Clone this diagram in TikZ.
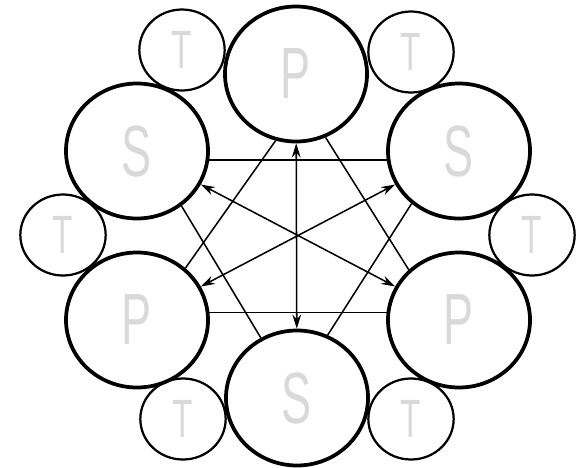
\documentclass[tikz,border=0pt]{standalone}
\usepackage{fontspec}
\newfontfamily\lblfont{Liberation Sans}[FakeStretch=0.62]
\usetikzlibrary{arrows.meta,shapes.geometric}

\begin{document}
\begin{tikzpicture}[x=0.03cm, y=-0.03cm, >={Stealth[length=12pt,width=7.5pt]},
  big/.style={draw, ellipse, line width=3.2pt, minimum width=4.26cm, minimum height=4.05cm, inner sep=0pt, text=black!15, font=\lblfont\fontsize{62}{62}\selectfont},
  small/.style={draw, ellipse, line width=1.9pt, minimum width=2.56cm, minimum height=2.43cm, inner sep=0pt, text=black!15, font=\lblfont\fontsize{46}{46}\selectfont},
  link/.style={line width=1.3pt}]
\useasboundingbox (0,0) rectangle (578,468);
% outer ring
\node[big] (ptop) at (296,74) {P};
\node[big] (stl) at (137,151) {S};
\node[big] (str) at (459,151) {S};
\node[big] (pbl) at (137,320) {P};
\node[big] (pbr) at (459,320) {P};
\node[big] (sbot) at (297,398) {S};
\node[small] (ttl) at (182,50) {T};
\node[small] (ttr) at (411,52) {T};
\node[small] (tl) at (63,235) {T};
\node[small] (tr) at (532,235) {T};
\node[small] (tbl) at (183,419) {T};
\node[small] (tbr) at (411,419) {T};
% triangles
\draw[link] (ptop.253)--(pbl.47); \draw[link] (ptop.295)--(pbr.135); \draw[link] (pbl.6)--(pbr.174);
\draw[link] (stl.-7)--(str.187); \draw[link] (stl.-51)--(sbot.121); \draw[link] (str.228)--(sbot.64);
% opposite pairs
\draw[link, <->] (ptop)--(sbot); \draw[link, <->] (stl)--(pbr); \draw[link, <->] (str)--(pbl);
\end{tikzpicture}
\end{document}
